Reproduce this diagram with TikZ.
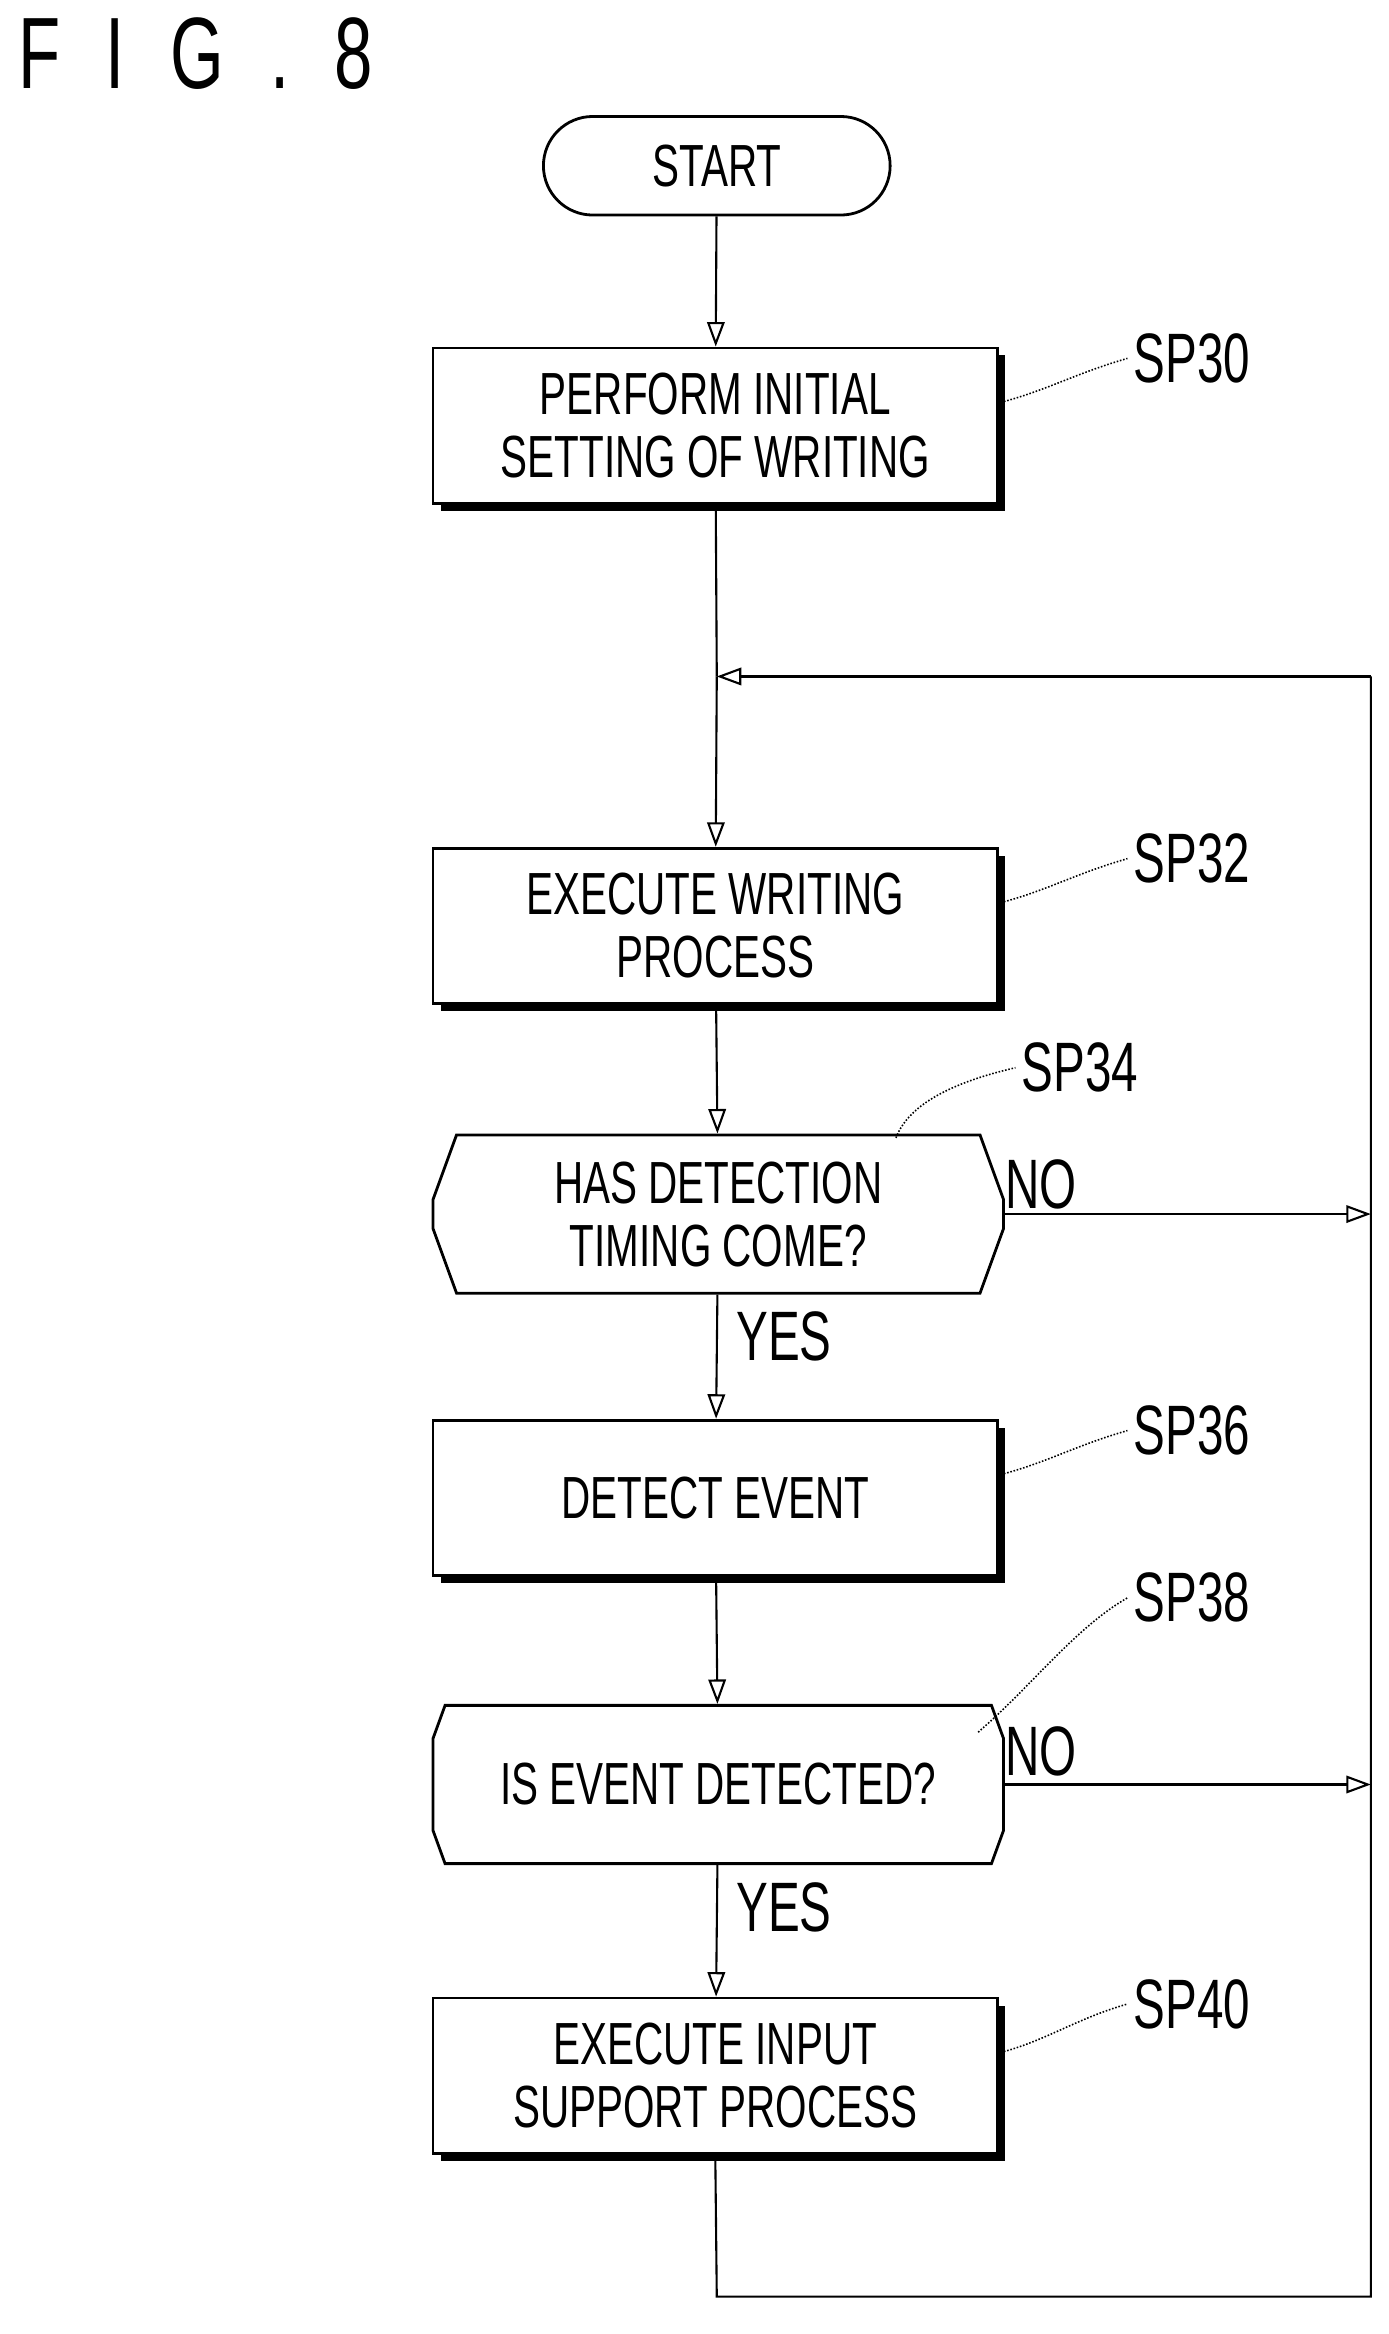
\documentclass[tikz,border=0pt]{standalone}
\usepackage{fontspec}
\setmainfont{Liberation Sans}[FakeStretch=0.68]
\usetikzlibrary{arrows.meta,shapes.misc}
\begin{document}
\begin{tikzpicture}[x=0.03cm,y=-0.03cm,
  txt/.style={font=\fontsize{34}{36}\selectfont,align=center},
  box/.style={draw,line width=1.6pt,fill=white,minimum width=378*0.03cm,minimum height=104*0.03cm,txt},
  hexa/.style={draw,line width=1.6pt,fill=white,chamfered rectangle,chamfered rectangle xsep=20*0.03cm,chamfered rectangle angle=20,minimum width=382*0.03cm,minimum height=106*0.03cm,inner xsep=0pt,txt},
  arr/.style={line width=1.2pt,-{Triangle[open,length=14pt,width=10pt]}},
  ln/.style={line width=1.2pt},
  lab/.style={font=\fontsize{40}{42}\selectfont},
  sq/.style={line width=0.9pt,densely dotted}]
\useasboundingbox (0,0) rectangle (930,1563);
\node[anchor=north west,font=\fontsize{58}{60}\selectfont] (title) at (8,8) {F\hspace{0.45em}I\hspace{0.45em}G\hspace{0.45em}.\hspace{0.45em}8};
\node[draw,line width=1.6pt,rounded rectangle,minimum width=240*0.03cm,minimum height=66*0.03cm,txt] (start) at (480,111) {START};
\newcommand{\stepbox}[3]{%
  \fill (#2)++(-184,-47) rectangle ++(378,104);
  \node[box] (#1) at (#2) {#3};}
\stepbox{b30}{479,285}{PERFORM INITIAL\\SETTING OF WRITING}
\stepbox{b32}{479,620}{EXECUTE WRITING\\PROCESS}
\stepbox{b36}{479,1003}{DETECT EVENT}
\stepbox{b40}{479,1390}{EXECUTE INPUT\\SUPPORT PROCESS}
\node[hexa] (h34) at (481,813) {HAS DETECTION\\TIMING COME?};
\node[hexa] (h38) at (481,1195) {IS EVENT DETECTED?};
\coordinate (j) at (480,453);
\coordinate (r1) at (918,453);
\coordinate (r2) at (918,813);
\coordinate (r3) at (918,1195);
\coordinate (bl) at (480,1538);
\coordinate (br) at (918,1538);
\draw[arr] (start) -- (b30);
\draw[ln] (b30) -- (j);
\draw[arr] (j) -- (b32);
\draw[arr] (b32) -- (h34);
\draw[arr] (h34) -- (b36);
\draw[arr] (b36) -- (h38);
\draw[arr] (h38) -- (b40);
\draw[ln] (b40.south) -- (bl) -- (br) -- (r1);
\draw[arr] (r1) -- (j);
\draw[arr] (h34.east) -- (r2);
\draw[arr] (h38.east) -- (r3);
\node[lab] (n1) at (697,793) {NO};
\node[lab] (n2) at (697,1173) {NO};
\node[lab] (y1) at (525,895) {YES};
\node[lab] (y2) at (525,1277) {YES};
\node[lab,anchor=west] (l30) at (755,240) {SP30};
\node[lab,anchor=west] (l32) at (755,575) {SP32};
\node[lab,anchor=west] (l34) at (680,715) {SP34};
\node[lab,anchor=west] (l36) at (755,958) {SP36};
\node[lab,anchor=west] (l38) at (755,1070) {SP38};
\node[lab,anchor=west] (l40) at (755,1342) {SP40};
\draw[sq] (668,270) .. controls (700,262) and (720,250) .. (l30.west);
\draw[sq] (668,605) .. controls (700,597) and (720,585) .. (l32.west);
\draw[sq] (600,762) .. controls (610,735) and (650,722) .. (l34.west);
\draw[sq] (668,988) .. controls (700,980) and (720,968) .. (l36.west);
\draw[sq] (655,1160) .. controls (690,1130) and (720,1090) .. (l38.west);
\draw[sq] (668,1375) .. controls (700,1367) and (720,1352) .. (l40.west);
\end{tikzpicture}
\end{document}
